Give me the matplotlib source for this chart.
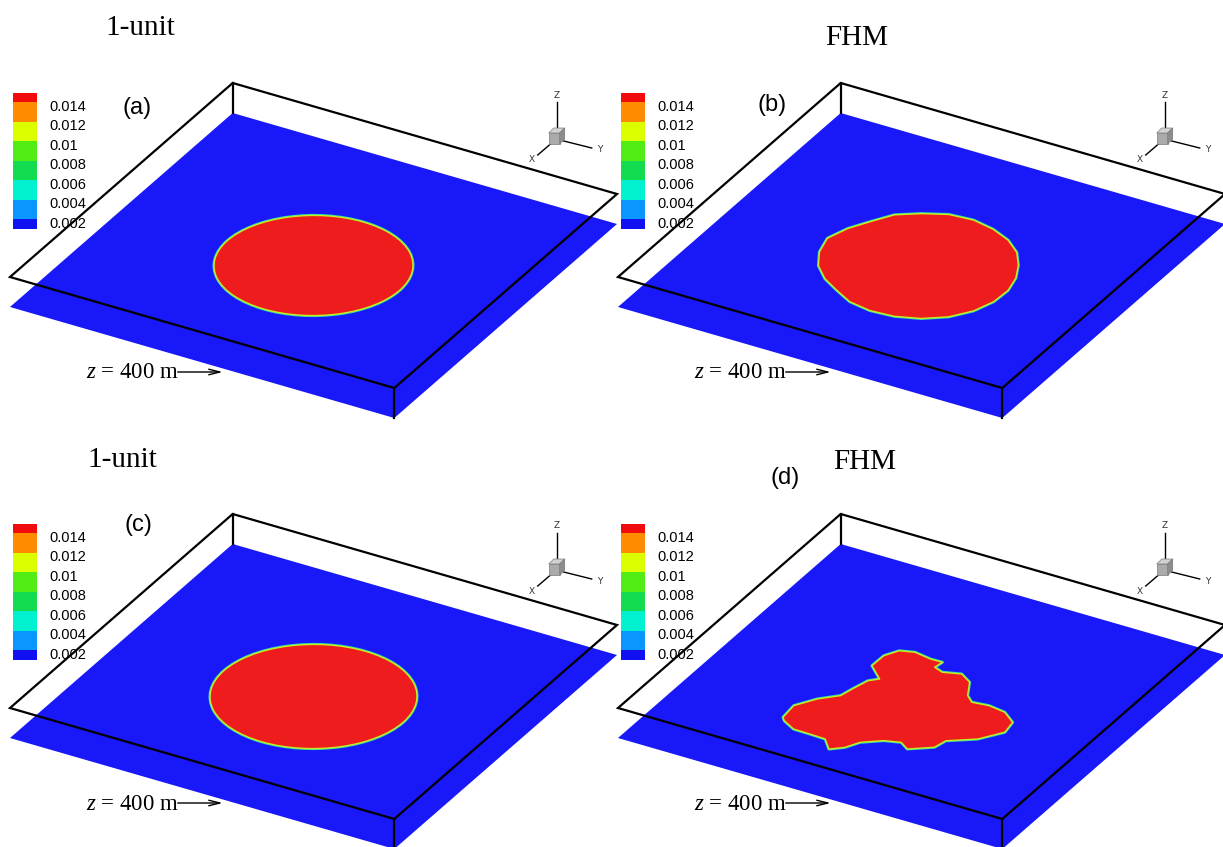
import numpy as np
import matplotlib as mpl
import matplotlib.pyplot as plt
from matplotlib.colors import ListedColormap, BoundaryNorm
from matplotlib.patches import Polygon, Circle
from matplotlib.transforms import Affine2D, ScaledTranslation

plt.rcParams['mathtext.fontset'] = 'custom'
plt.rcParams['mathtext.rm'] = 'Liberation Serif'
plt.rcParams['mathtext.it'] = 'Liberation Serif:italic'

# contour levels of the legend
levels = [0.001, 0.002, 0.004, 0.006, 0.008, 0.010, 0.012, 0.014, 0.015]
level_colors = ['#1010f0', '#0a96ff', '#00f0d0', '#14dc50', '#50ec14',
                '#dcff00', '#ff8c00', '#f00c0c']
tick_values = [0.002, 0.004, 0.006, 0.008, 0.01, 0.012, 0.014]
tick_labels = ['0.002', '0.004', '0.006', '0.008', '0.01', '0.012', '0.014']

# plume footprint on the z = 400 m slice, normalised plane coords (u, v)
circle_a = (0.5, 0.5, 0.224)   # u centre, v centre, radius
circle_c = (0.5, 0.5, 0.233)

fhm_b_angle = np.arange(0, 360, 15)
fhm_b_radius = [0.225, 0.230, 0.235, 0.238, 0.237, 0.235, 0.232, 0.228,
                0.220, 0.225, 0.232, 0.238, 0.245, 0.235, 0.228, 0.235,
                0.232, 0.236, 0.234, 0.228, 0.225, 0.222, 0.218, 0.220]

fhm_d_u = [0.276, 0.271, 0.302, 0.340, 0.348, 0.360, 0.379, 0.334, 0.335,
           0.354, 0.388, 0.434, 0.464, 0.460, 0.486, 0.528, 0.562, 0.588,
           0.611, 0.653, 0.698, 0.736, 0.743, 0.705, 0.647, 0.639, 0.590,
           0.563, 0.525, 0.483, 0.464, 0.437, 0.407, 0.365, 0.323, 0.286]
fhm_d_v = [0.735, 0.678, 0.626, 0.587, 0.548, 0.499, 0.479, 0.436, 0.384,
           0.348, 0.336, 0.345, 0.344, 0.372, 0.383, 0.368, 0.391, 0.445,
           0.466, 0.460, 0.468, 0.498, 0.545, 0.602, 0.644, 0.682, 0.719,
           0.700, 0.713, 0.746, 0.783, 0.807, 0.772, 0.770, 0.769, 0.747]

W, H = 1223, 847
fig = plt.figure(figsize=(W / 100, H / 100), dpi=100)
ax = fig.add_axes([0, 0, 1, 1])
ax.set_xlim(0, W)
ax.set_ylim(H, 0)
ax.axis('off')

cmap = ListedColormap(level_colors)
norm = BoundaryNorm(levels, cmap.N)

# projected edges of the slab (pixels)
A = np.array([384.3, 111.0])
B = np.array([-222.7, 194.0])
depth = 30.0
plane_blue = '#1818f8'
blob_red = '#ee1c1c'

unit_square = [(0, 0), (1, 0), (1, 1), (0, 1)]


def draw_triad(cx, cy):
    ax.plot([cx, cx], [cy - 8, cy - 35], color='k', lw=1.0)
    ax.plot([cx + 7, cx + 35], [cy + 4, cy + 11], color='k', lw=1.0)
    ax.plot([cx - 5, cx - 19], [cy + 6, cy + 18], color='k', lw=1.0)
    top = [(cx - 8, cy - 4), (cx + 3, cy - 4), (cx + 8, cy - 9), (cx - 3, cy - 9)]
    front = [(cx - 8, cy - 4), (cx + 3, cy - 4), (cx + 3, cy + 7), (cx - 8, cy + 7)]
    side = [(cx + 3, cy - 4), (cx + 8, cy - 9), (cx + 8, cy + 2), (cx + 3, cy + 7)]
    for pts, c in [(top, '#d2d2d2'), (front, '#ababab'), (side, '#8c8c8c')]:
        ax.add_patch(Polygon(pts, closed=True, fc=c, ec='#7a7a7a', lw=0.5, zorder=5))
    ax.text(cx, cy - 42, 'Z', fontsize=6.5, ha='center', va='center', color='#333333')
    ax.text(cx + 43, cy + 13, 'Y', fontsize=6.5, ha='center', va='center', color='#333333')
    ax.text(cx - 25, cy + 23, 'X', fontsize=6.5, ha='center', va='center', color='#333333')


def make_blob(kind, data, **kw):
    if kind == 'circle':
        return Circle(data[:2], data[2], **kw)
    return Polygon(data, closed=True, joinstyle='round', **kw)


def draw_panel(ox, oy, kind, data):
    plane_tr = Affine2D(np.array([[A[0], B[0], ox], [A[1], B[1], oy + depth],
                                  [0, 0, 1]])) + ax.transData
    top_tr = Affine2D(np.array([[A[0], B[0], ox], [A[1], B[1], oy],
                                [0, 0, 1]])) + ax.transData
    ax.add_patch(Polygon(unit_square, closed=True, fc=plane_blue, ec='none',
                         transform=plane_tr, zorder=1))
    # thin transition band around the plume edge
    ax.add_patch(make_blob(kind, data, fc='none', ec='#30d8b0', lw=2.2,
                           transform=plane_tr, zorder=2))
    ax.add_patch(make_blob(kind, data, fc=blob_red, ec='#c8ec20', lw=1.0,
                           transform=plane_tr, zorder=2))
    ax.add_patch(Polygon(unit_square, closed=True, fill=False, ec='k', lw=1.6,
                         joinstyle='miter', transform=top_tr, zorder=3))
    front = np.array([ox, oy]) + A + B
    ax.plot([ox, ox], [oy, oy + depth], color='k', lw=1.6, zorder=3)
    ax.plot([front[0], front[0]], [front[1], front[1] + depth], color='k', lw=1.6, zorder=3)

    # legend
    cax = fig.add_axes([(ox - 220) / W, 1 - (oy + 146) / H, 24.6 / W, 136.3 / H])
    cb = mpl.colorbar.ColorbarBase(cax, cmap=cmap, norm=norm, boundaries=levels,
                                   ticks=tick_values, spacing='proportional')
    cb.outline.set_visible(False)
    cax.minorticks_off()
    cax.set_yticklabels(tick_labels)
    cax.tick_params(which='both', length=0, pad=9, labelsize=10.5)
    for lab in cax.get_yticklabels():
        lab.set_fontfamily('Liberation Sans')
        lab.set_transform(lab.get_transform() +
                          ScaledTranslation(0, -3 / 100, fig.dpi_scale_trans))

    draw_triad(ox + 324, oy + 54)

    ax.text(ox - 54, oy + 290, r'$z$ = 400 m', fontsize=16.5, family='Liberation Serif',
            ha='right', va='center')
    ax.annotate('', xy=(ox - 10, oy + 289), xytext=(ox - 55, oy + 289),
                arrowprops=dict(arrowstyle='->, head_length=0.8, head_width=0.2',
                                lw=1.0, color='k', shrinkA=0, shrinkB=0))


origins = [(232.7, 83.0), (840.7, 83.0), (232.7, 514.0), (840.7, 514.0)]

th = np.deg2rad(fhm_b_angle)
b_pts = np.column_stack([0.5 + np.array(fhm_b_radius) * np.cos(th),
                         0.5 + np.array(fhm_b_radius) * np.sin(th)])
d_pts = np.column_stack([fhm_d_u, fhm_d_v])

shapes = [('circle', circle_a), ('poly', b_pts), ('circle', circle_c), ('poly', d_pts)]

for (ox, oy), (kind, data) in zip(origins, shapes):
    draw_panel(ox, oy, kind, data)

serif = 'Liberation Serif'
ax.text(140, 28, '1-unit', fontsize=21, family=serif, ha='center', va='center')
ax.text(857, 38, 'FHM', fontsize=21, family=serif, ha='center', va='center')
ax.text(122, 460, '1-unit', fontsize=21, family=serif, ha='center', va='center')
ax.text(865, 462, 'FHM', fontsize=21, family=serif, ha='center', va='center')

sans = 'Liberation Sans'
ax.text(137, 108, '(a)', fontsize=17, family=sans, ha='center', va='center')
ax.text(772, 105, '(b)', fontsize=17, family=sans, ha='center', va='center')
ax.text(138, 525, '(c)', fontsize=17, family=sans, ha='center', va='center')
ax.text(785, 478, '(d)', fontsize=17, family=sans, ha='center', va='center')

fig.savefig('out.png', dpi=100)
